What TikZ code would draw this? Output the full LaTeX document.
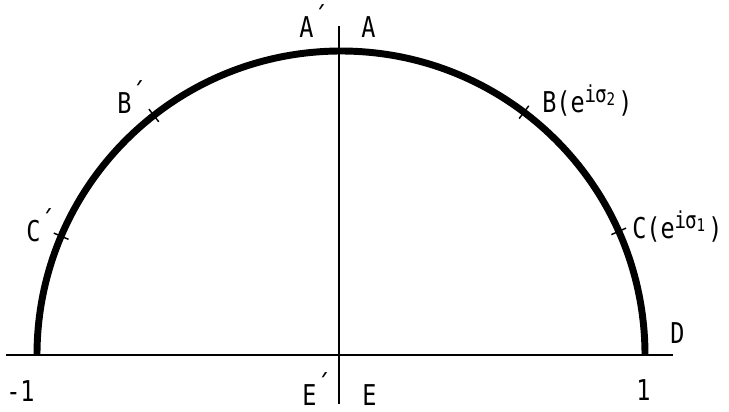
\documentclass[tikz,border=0pt]{standalone}
\usepackage{fontspec}
\setmainfont{DejaVu Sans Mono}[FakeStretch=0.82]
\newcommand{\pr}{\raisebox{0.32em}{´}}
\newcommand{\supx}[1]{\raisebox{6.8pt}{\fontsize{17.5pt}{17.5pt}\selectfont i\kern-0.05em σ\raisebox{-0.12em}{\fontsize{13pt}{13pt}\selectfont #1}}\kern2.5pt}
\begin{document}
\begin{tikzpicture}[x=0.75pt,y=-0.75pt,
  lbl/.style={inner sep=0pt,anchor=base west,font=\fontsize{21.5pt}{22pt}\selectfont},
  axis/.style={line width=1.5pt},
  tick/.style={line width=1.1pt}]
\useasboundingbox (0,0) rectangle (729,411);
\coordinate (O) at (341,355);
\coordinate (L) at (6,355);
\coordinate (R) at (673,355);
\coordinate (T) at (339,26);
\coordinate (Bt) at (339,404);
\draw[axis] (L) -- (R);
\draw[axis] (T) -- (Bt);
\draw[line width=5.2pt] (37,355) arc[start angle=180,end angle=360,radius=304];
% ticks
\foreach \a/\n in {-128/bp,-53/b,-24/c,-157/cp}{
  \draw[tick] ([shift={(\a:296)}]O) coordinate (\n1) -- ([shift={(\a:312)}]O) coordinate (\n2);
}
\node[lbl] (Ap) at (299,37) {A\pr};
\node[lbl] (A) at (361,37) {A};
\node[lbl] (Bp) at (117,113) {B\pr};
\node[lbl] (B) at (542,112) {B(e\supx{2})};
\node[lbl] (Cp) at (26,241) {C\pr};
\node[lbl] (C) at (632,238) {C(e\supx{1})};
\node[lbl] (D) at (670,343) {D};
\node[lbl] (m1) at (6,401) {-1};
\node[lbl] (one) at (636,400) {1};
\node[lbl] (Ep) at (302,405) {E\pr};
\node[lbl] (E) at (362,405) {E};
\end{tikzpicture}
\end{document}
